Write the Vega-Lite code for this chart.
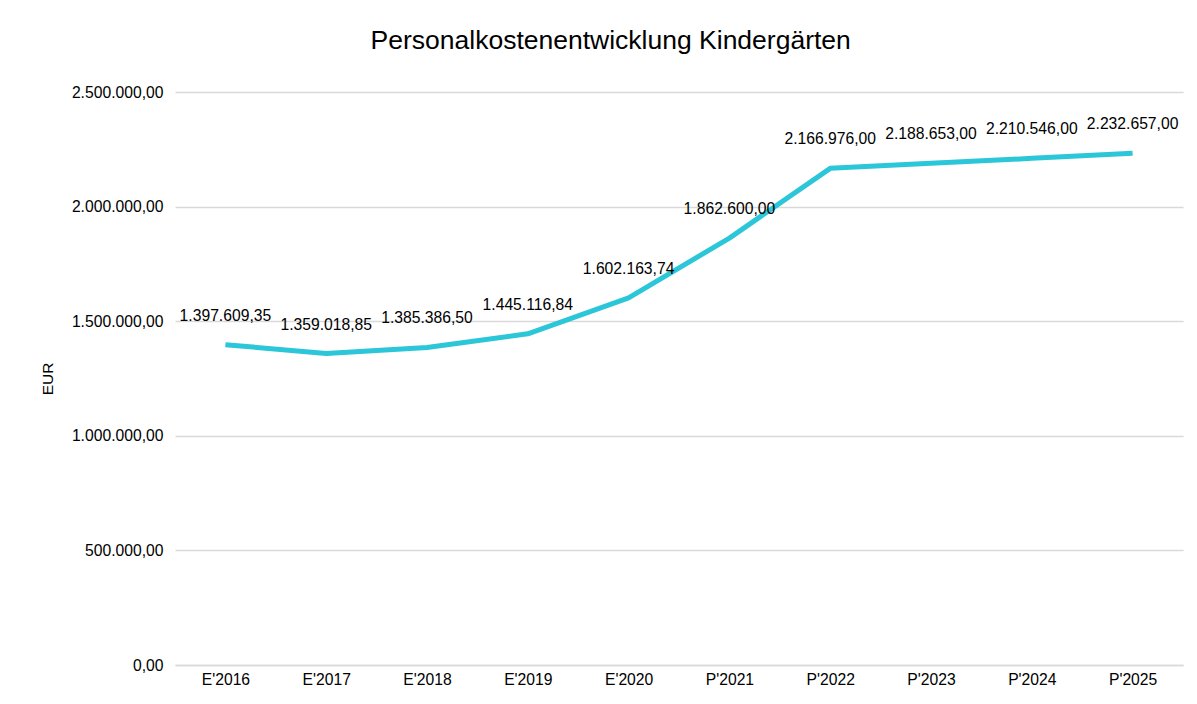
{
  "$schema": "https://vega.github.io/schema/vega-lite/v6.json",
  "autosize": {"type": "none"},
  "padding": {"left": 175, "top": 92, "right": 14, "bottom": 39},
  "width": 1008,
  "height": 573,
  "background": "white",
  "title": {
    "text": "Personalkostenentwicklung Kindergärten",
    "font": "Liberation Sans",
    "fontSize": 26.5,
    "fontWeight": "normal",
    "color": "#000000",
    "anchor": "middle",
    "frame": "bounds",
    "offset": 30,
    "dx": -1
  },
  "config": {
    "locale": {"number": {"decimal": ",", "thousands": ".", "grouping": [3], "currency": ["", " €"]}},
    "view": {"stroke": null},
    "font": "Liberation Sans"
  },
  "data": {
    "values": [
      {"jahr": "E'2016", "wert": 1397609.35},
      {"jahr": "E'2017", "wert": 1359018.85},
      {"jahr": "E'2018", "wert": 1385386.50},
      {"jahr": "E'2019", "wert": 1445116.84},
      {"jahr": "E'2020", "wert": 1602163.74},
      {"jahr": "P'2021", "wert": 1862600.00},
      {"jahr": "P'2022", "wert": 2166976.00},
      {"jahr": "P'2023", "wert": 2188653.00},
      {"jahr": "P'2024", "wert": 2210546.00},
      {"jahr": "P'2025", "wert": 2232657.00}
    ]
  },
  "encoding": {
    "x": {
      "field": "jahr",
      "type": "ordinal",
      "sort": null,
      "scale": {"paddingInner": 0, "paddingOuter": 0.5},
      "axis": {
        "title": null,
        "labelAngle": 0,
        "labelFontSize": 15.7,
        "labelColor": "#000000",
        "labelPadding": 7,
        "ticks": false,
        "domain": true,
        "domainColor": "#d9d9d9",
        "domainWidth": 1.5
      }
    },
    "y": {
      "field": "wert",
      "type": "quantitative",
      "scale": {"domain": [0, 2500000], "nice": false},
      "axis": {
        "title": "EUR",
        "titleFontSize": 15.5,
        "titleFontWeight": "normal",
        "titleColor": "#000000",
        "titlePadding": 16,
        "values": [0, 500000, 1000000, 1500000, 2000000, 2500000],
        "format": ",.2f",
        "labelFontSize": 15.7,
        "labelColor": "#000000",
        "labelPadding": 12,
        "ticks": false,
        "domain": false,
        "gridColor": "#d9d9d9",
        "gridWidth": 1.5
      }
    }
  },
  "layer": [
    {
      "mark": {"type": "line", "color": "#2BC6D8", "strokeWidth": 5, "strokeJoin": "round"}
    },
    {
      "mark": {"type": "text", "fontSize": 15.7, "color": "#000000", "baseline": "middle", "dy": -29},
      "encoding": {
        "text": {"field": "wert", "type": "quantitative", "format": ",.2f"}
      }
    }
  ]
}
